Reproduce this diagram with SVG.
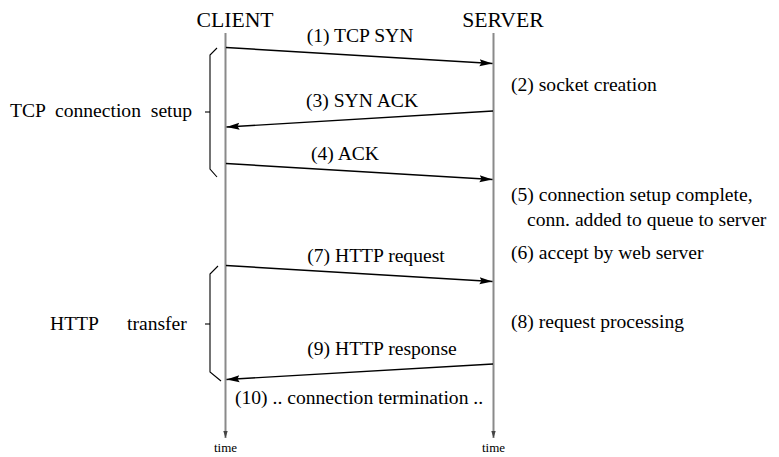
<svg xmlns="http://www.w3.org/2000/svg" width="779" height="457" viewBox="0 0 779 457">
  <style>
    text { font-family: "Liberation Serif", "Times New Roman", serif; fill: #000; }
    .head { font-size: 21.7px; }
    .lbl { font-size: 19.6px; }
    .note { font-size: 19.6px; }
    .time { font-size: 13px; }
    .life { stroke: #8a8a8a; stroke-width: 2; fill: none; }
    .msg { stroke: #000; stroke-width: 1.4; fill: none; marker-end: url(#ah); }
    .brace { stroke: #000; stroke-width: 1.1; fill: none; }
  </style>
  <defs>
    <marker id="ah" markerUnits="userSpaceOnUse" markerWidth="14" markerHeight="8" refX="13" refY="4" orient="auto">
      <path d="M0,0.5 L13,4 L0,7.5 L2,4 Z" fill="#000"/>
    </marker>
    <marker id="th" markerUnits="userSpaceOnUse" markerWidth="8" markerHeight="8" refX="7" refY="4" orient="auto">
      <path d="M0,1.8 L7,4 L0,6.2 Z" fill="#444"/>
    </marker>
  </defs>

  <!-- lifelines with time arrows -->
  <g id="client">
    <text class="head" x="235" y="27" text-anchor="middle">CLIENT</text>
    <line class="life" x1="225.5" y1="33" x2="225.5" y2="438" marker-end="url(#th)"/>
    <text class="time" x="225.5" y="452" text-anchor="middle">time</text>
  </g>
  <g id="server">
    <text class="head" x="503" y="27" text-anchor="middle">SERVER</text>
    <line class="life" x1="493.5" y1="33" x2="493.5" y2="438" marker-end="url(#th)"/>
    <text class="time" x="493.5" y="452" text-anchor="middle">time</text>
  </g>

  <!-- phase brackets -->
  <g id="tcp-setup">
    <polyline class="brace" points="217,48 210,55 210,169 217,177"/>
    <line class="brace" x1="205" y1="112" x2="210" y2="112"/>
    <text class="lbl" x="10" y="117" xml:space="preserve">TCP  connection  setup</text>
  </g>
  <g id="http-transfer">
    <polyline class="brace" points="218,266 210,274 210,372 221,381"/>
    <line class="brace" x1="205" y1="324" x2="210" y2="324"/>
    <text class="lbl" x="50" y="330">HTTP<tspan x="127">transfer</tspan></text>
  </g>

  <!-- server-side notes -->
  <g id="notes">
    <text class="note" x="511" y="91">(2) socket creation</text>
    <text class="note" x="511" y="201">(5) connection setup complete,</text>
    <text class="note" x="527" y="226">conn. added to queue to server</text>
    <text class="note" x="511" y="259">(6) accept by web server</text>
    <text class="note" x="511" y="328">(8) request processing</text>
    <text class="note" x="235" y="404">(10) .. connection termination ..</text>
  </g>

  <!-- messages -->
  <g id="connectors">
    <line class="msg" x1="226" y1="47.5" x2="492.5" y2="63.5"/>
    <text class="lbl" x="360" y="42" text-anchor="middle">(1) TCP SYN</text>
    <line class="msg" x1="493" y1="111" x2="226.5" y2="127"/>
    <text class="lbl" x="362" y="107" text-anchor="middle">(3) SYN ACK</text>
    <line class="msg" x1="226" y1="163.5" x2="492.5" y2="179.5"/>
    <text class="lbl" x="345" y="160" text-anchor="middle">(4) ACK</text>
    <line class="msg" x1="226" y1="265.5" x2="492.5" y2="281.5"/>
    <text class="lbl" x="376" y="262" text-anchor="middle">(7) HTTP request</text>
    <line class="msg" x1="493" y1="364" x2="226.5" y2="379.5"/>
    <text class="lbl" x="382" y="355" text-anchor="middle">(9) HTTP response</text>
  </g>
</svg>
